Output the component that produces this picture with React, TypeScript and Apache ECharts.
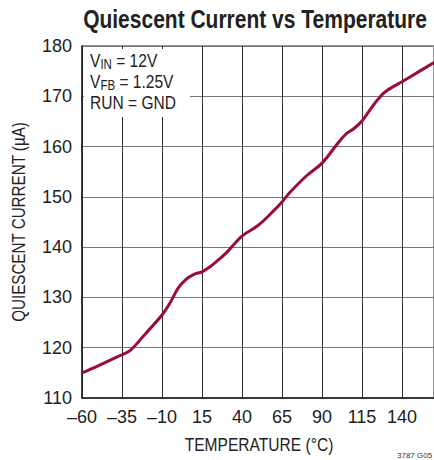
import React, { useEffect, useRef } from "react";
import * as echarts from "echarts";

const temperatures = [-60, -50, -40, -35, -30, -20, -10, -5, 0, 5, 10, 15, 20, 25, 30, 40, 50, 60, 65, 70, 80, 90, 100, 105, 110, 115, 120, 125, 130, 140, 150, 160];
const currentUA = [115.0, 116.4, 117.9, 118.6, 119.4, 122.9, 126.5, 128.9, 131.8, 133.6, 134.6, 135.1, 136.1, 137.4, 138.8, 142.2, 144.3, 147.3, 149.0, 150.9, 154.1, 156.7, 160.7, 162.5, 163.6, 165.1, 167.3, 169.4, 171.0, 172.9, 174.8, 176.7];
const xMin = -60;
const xMax = 160;
const xStep = 25;
const yMin = 110;
const yMax = 180;
const yStep = 10;

const FONT = "'Liberation Sans', Arial, sans-serif";

export default function App() {
  const ref = useRef<HTMLDivElement>(null);
  useEffect(() => {
    if (!ref.current) return;
    const chart = echarts.init(ref.current, null, { renderer: "svg" });
    const data = temperatures.map((t, i) => [t - xMin, currentUA[i]]);
    chart.setOption({
      animation: false,
      backgroundColor: "#ffffff",
      textStyle: { fontFamily: FONT },
      grid: {
        left: 82,
        top: 46,
        right: -8,
        bottom: 62,
        show: true,
        borderColor: "#222",
        borderWidth: 1,
        containLabel: false,
      },
      xAxis: {
        type: "value",
        min: 0,
        max: xMax - xMin,
        interval: xStep,
        axisLine: { show: true, lineStyle: { color: "#222", width: 1.5 } },
        axisTick: { show: false },
        axisLabel: {
          fontSize: 18,
          color: "#222",
          margin: 10,
          fontFamily: FONT,
          showMaxLabel: false,
          formatter: (v: number) => {
            const t = v + xMin;
            return t < 0 ? "\u2013" + Math.abs(t) : String(t);
          },
        },
        splitLine: { show: true, lineStyle: { color: "#333", width: 1 } },
      },
      yAxis: {
        type: "value",
        min: yMin,
        max: yMax,
        interval: yStep,
        axisLine: { show: true, lineStyle: { color: "#222", width: 1.5 } },
        axisTick: { show: false },
        axisLabel: { fontSize: 18, color: "#222", margin: 10, fontFamily: FONT },
        splitLine: { show: true, lineStyle: { color: "#777", width: 1 } },
      },
      graphic: [
        {
          type: "text",
          x: 255,
          y: 19,
          scaleX: 0.84,
          style: {
            text: "Quiescent Current vs Temperature",
            fill: "#222",
            font: `bold 25px ${FONT}`,
            textAlign: "center",
            textVerticalAlign: "middle",
          },
        },
        {
          type: "text",
          x: 259,
          y: 444,
          scaleX: 0.82,
          style: {
            text: "TEMPERATURE (°C)",
            fill: "#222",
            font: `19px ${FONT}`,
            textAlign: "center",
            textVerticalAlign: "middle",
          },
        },
        {
          type: "text",
          x: 18,
          y: 222,
          rotation: Math.PI / 2,
          scaleX: 0.8,
          style: {
            text: "QUIESCENT CURRENT (µA)",
            fill: "#222",
            font: `19px ${FONT}`,
            textAlign: "center",
            textVerticalAlign: "middle",
          },
        },
        {
          type: "rect",
          shape: { x: 84, y: 49, width: 106, height: 68 },
          style: { fill: "#fff" },
          z: 10,
        },
        {
          type: "text",
          x: 90,
          y: 50,
          z: 11,
          scaleX: 0.82,
          style: {
            text: "V{sub|IN} = 12V\nV{sub|FB} = 1.25V\nRUN = GND",
            fill: "#222",
            fontSize: 19,
            fontFamily: FONT,
            lineHeight: 21,
            rich: {
              sub: { fontSize: 14, fontFamily: FONT, fill: "#222", verticalAlign: "bottom", padding: [5, 0, 0, 0] },
            },
          },
        },
        {
          type: "text",
          x: 397,
          y: 451,
          style: { text: "3787 G05", fill: "#333", fontSize: 8, fontFamily: FONT },
        },
      ],
      series: [
        {
          type: "line",
          data,
          smooth: 0.35,
          showSymbol: false,
          lineStyle: { color: "#9b0c3a", width: 3 },
          z: 5,
        },
      ],
    });
    return () => chart.dispose();
  }, []);
  return <div ref={ref} style={{ position: "absolute", left: 0, top: 0, width: 434, height: 460 }} />;
}
